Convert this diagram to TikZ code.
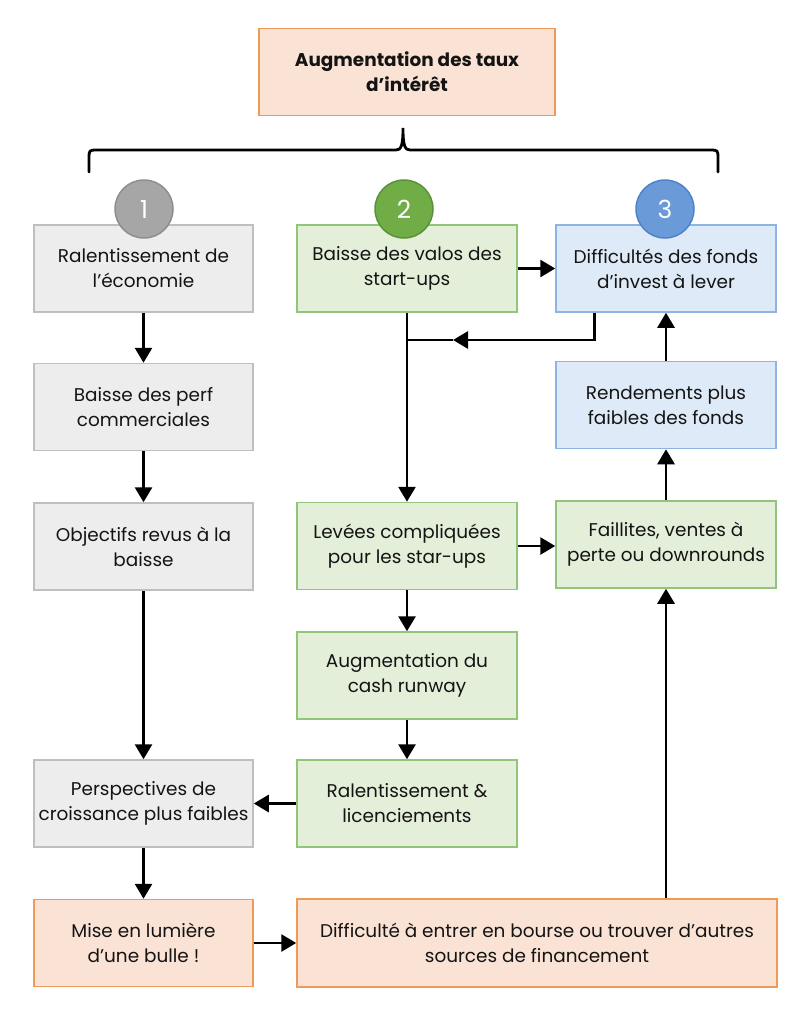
\documentclass[tikz,border=0pt]{standalone}
\usepackage{fontspec}
\setmainfont{Poppins}
\usetikzlibrary{arrows.meta,calc}
\definecolor{grayfill}{HTML}{EDEDED}
\definecolor{grayline}{HTML}{BFBFBF}
\definecolor{greenfill}{HTML}{E3EFD9}
\definecolor{greenline}{HTML}{93C47D}
\definecolor{bluefill}{HTML}{DEEAF7}
\definecolor{blueline}{HTML}{8EB4E3}
\definecolor{orangefill}{HTML}{FAE3D5}
\definecolor{orangeline}{HTML}{F09A5A}
\definecolor{cgray}{HTML}{A6A6A6}
\definecolor{cgrayline}{HTML}{8E8E8E}
\definecolor{cgreen}{HTML}{70AD47}
\definecolor{cgreenline}{HTML}{5B9139}
\definecolor{cblue}{HTML}{6A9BD8}
\definecolor{cblueline}{HTML}{4F83C9}
\definecolor{txt}{HTML}{141414}
\begin{document}
\begin{tikzpicture}[x=1bp,y=-1bp,
  box/.style={draw, line width=1.5bp, minimum width=219bp, minimum height=87bp,
    align=center, inner sep=0pt, text=txt, font=\fontsize{18.5}{25}\selectfont},
  graybox/.style={box, fill=grayfill, draw=grayline},
  greenbox/.style={box, fill=greenfill, draw=greenline},
  bluebox/.style={box, fill=bluefill, draw=blueline},
  orangebox/.style={box, fill=orangefill, draw=orangeline},
  num/.style={circle, minimum size=58bp, inner sep=0pt, line width=1.5bp, text=white,
    font=\fontsize{25}{27}\selectfont},
  line/.style={line width=2.8bp, draw=black},
  conn/.style={line, -{Triangle[length=15bp,width=17bp]}}
]
\useasboundingbox (0,0) rectangle (810,1024);

% top
\node[orangebox, minimum width=296bp, font=\bfseries\fontsize{18.5}{25}\selectfont] (top) at (407,72) {Augmentation des taux\\d’intérêt};

% brace
\draw[line, line cap=round] (89,172) -- (89,156) .. controls (89,151) and (90,150) .. (95,150) -- (396,150)
  .. controls (401,150) and (403,146) .. (403,128)
  .. controls (403,146) and (405,150) .. (410,150) -- (712,150)
  .. controls (717,150) and (718,151) .. (718,156) -- (718,172);

% column 1
\node[graybox] (a1) at (143.5,268.5) {Ralentissement de\\l’économie};
\node[graybox] (a2) at (143.5,407) {Baisse des perf\\commerciales};
\node[graybox] (a3) at (143.5,546.5) {Objectifs revus à la\\baisse};
\node[graybox] (a4) at (143.5,803.5) {Perspectives de\\croissance plus faibles};
\node[orangebox] (a5) at (143.5,943) {Mise en lumière\\d’une bulle !};

% column 2
\node[greenbox, minimum width=220bp] (b1) at (407,268.5) {Baisse des valos des\\start-ups};
\node[greenbox, minimum width=220bp] (b2) at (407,546) {Levées compliquées\\pour les star-ups};
\node[greenbox, minimum width=220bp] (b3) at (407,675.5) {Augmentation du\\cash runway};
\node[greenbox, minimum width=220bp] (b4) at (407,803.5) {Ralentissement \&\\licenciements};

% column 3
\node[bluebox, minimum width=220bp] (c1) at (666,268.5) {Difficultés des fonds\\d’invest à lever};
\node[bluebox, minimum width=220bp] (c2) at (666,405) {Rendements plus\\faibles des fonds};
\node[greenbox, minimum width=220bp] (c3) at (666,544.5) {Faillites, ventes à\\perte ou downrounds};

% bottom wide
\node[orangebox, minimum width=480bp, minimum height=88bp] (d) at (537,943) {Difficulté à entrer en bourse ou trouver d’autres\\sources de financement};

% circles
\node[num, fill=cgray, draw=cgrayline] (n1) at (144,209) {1};
\node[num, fill=cgreen, draw=cgreenline] (n2) at (404,209) {2};
\node[num, fill=cblue, draw=cblueline] (n3) at (665,209) {3};

% connectors column 1
\draw[conn] (a1) -- (a2);
\draw[conn] (a2) -- (a3);
\draw[conn] (a3) -- (a4);
\draw[conn] (a4) -- (a5);

% column 2
\draw[conn] (b1.east) -- (c1.west);
\draw[conn] (b1.south) -- (b2.north);
\draw[conn] (b2.east) -- (c3.west |- b2.east);
\draw[conn] (b2) -- (b3);
\draw[conn] (b3) -- (b4);
\draw[conn] (b4.west) -- (a4.east);

% column 3 feedback
\coordinate (cb) at ($(c1.south west)+(39,0)$);
\coordinate (cm) at (453,340);
\coordinate (cj) at (b1.south |- cm);
\draw[conn] (cb) |- (cm);
\draw[line] (cm) -- (cj);
\draw[conn] (c2) -- (c1);
\draw[conn] (c3) -- (c2);

% bottom
\draw[conn] (a5.east) -- (d.west);
\draw[conn] (d.north -| c3.south) -- (c3.south);
\end{tikzpicture}
\end{document}
